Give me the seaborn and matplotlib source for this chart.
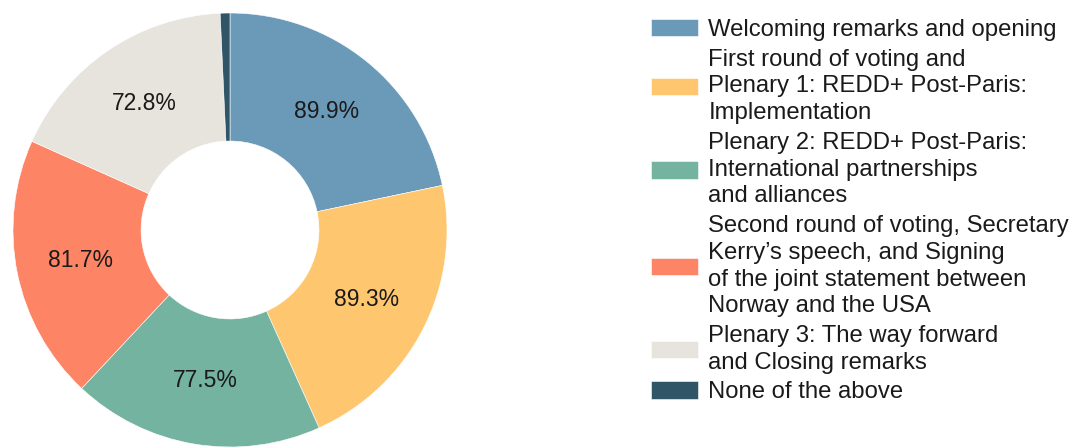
import numpy as np
import matplotlib
matplotlib.use("Agg")
import matplotlib.pyplot as plt
import seaborn as sns

# --------------------------------------------------------------
# Data
# --------------------------------------------------------------
sessions = [
    "Welcoming remarks and opening",
    "First round of voting and\nPlenary 1: REDD+ Post-Paris:\nImplementation",
    "Plenary 2: REDD+ Post-Paris:\nInternational partnerships\nand alliances",
    "Second round of voting, Secretary\nKerry\u2019s speech, and Signing\nof the joint statement between\nNorway and the USA",
    "Plenary 3: The way forward\nand Closing remarks",
    "None of the above",
]
values = [89.9, 89.3, 77.5, 81.7, 72.8, 3.0]
pct_labels = ["89.9%", "89.3%", "77.5%", "81.7%", "72.8%", ""]
colors = ["#6b9ab9", "#fec76f", "#73b3a0", "#fe8466", "#e7e4dd", "#305566"]

# --------------------------------------------------------------
# Plot
# --------------------------------------------------------------
sns.set_theme(style="white")
plt.rcParams["font.family"] = ["Liberation Sans", "DejaVu Sans"]

W, H = 1072, 448
fig = plt.figure(figsize=(W / 100, H / 100), dpi=100)
fig.patch.set_facecolor("white")

box = 440
ax = fig.add_axes([(230 - box / 2) / W, (218 - box / 2) / H, box / W, box / H])

inner = 0.41
wedges, _ = ax.pie(values, colors=colors, startangle=90, counterclock=False,
                   wedgeprops=dict(width=1 - inner, edgecolor="white", linewidth=0.4))
lim = box / 434
ax.set_xlim(-lim, lim)
ax.set_ylim(-lim, lim)
ax.set_aspect("equal")

# percentage labels in the middle of each ring segment
mid_r = (1 + inner) / 2
for w, txt in zip(wedges, pct_labels):
    if not txt:
        continue
    ang = np.deg2rad((w.theta1 + w.theta2) / 2)
    ax.text(mid_r * np.cos(ang), mid_r * np.sin(ang), txt, ha="center", va="center",
            fontsize=16.5, color="#1a1a1a")

leg = fig.legend(wedges, sessions, loc="upper left", bbox_to_anchor=(651 / W, 1 - 19 / H),
                 frameon=False, fontsize=17.2, handlelength=1.95, handleheight=0.75,
                 handletextpad=0.45, labelspacing=0.32, borderpad=0, borderaxespad=0)
for t in leg.get_texts():
    t.set_color("#1a1a1a")
    t.set_linespacing(1.28)

fig.savefig("out.png", dpi=100, facecolor="white")
